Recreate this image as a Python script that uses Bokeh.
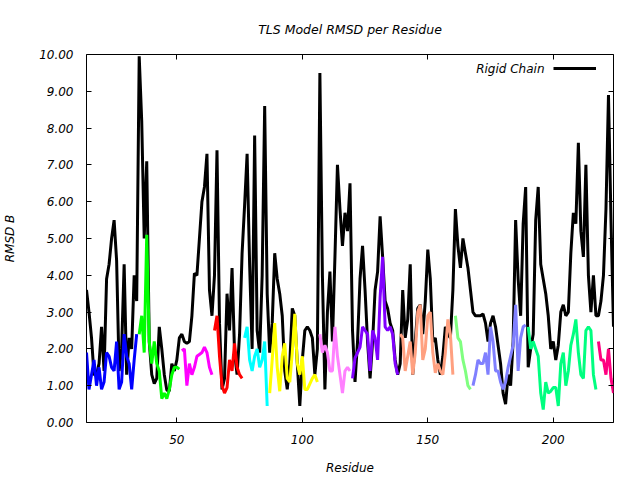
from bokeh.plotting import figure
from bokeh.models import (Range1d, FixedTicker, LinearAxis, NumeralTickFormatter, Legend,
                          LegendItem, Label, CustomJSTickFormatter)
from bokeh.embed import file_html
from bokeh.resources import INLINE

# ---- data ----
first_residue = 14
rigid_chain = [
    3.6, 3.0, 2.3, 1.3, 1.3, 1.6, 2.6, 1.4, 3.9, 4.3,   # 14-23
    5.0, 5.5, 4.4, 1.4, 2.0, 4.3, 1.3, 2.3, 2.0, 4.0,   # 24-33
    3.3, 9.95, 8.2, 5.0, 7.1, 2.2, 1.3, 1.06, 1.2, 2.6,  # 34-43
    2.0, 1.3, 0.88, 0.85, 1.6, 1.4, 1.7, 2.3, 2.4, 2.2,  # 44-53
    2.15, 2.2, 2.9, 4.05, 4.0, 5.0, 6.0, 6.4, 7.3, 3.6,  # 54-63
    2.9, 4.0, 7.4, 2.7, 0.9, 1.2, 3.5, 2.5, 4.2, 1.9,    # 64-73
    1.3, 2.4, 4.6, 5.9, 7.3, 4.3, 2.0, 7.8, 2.5, 1.9,    # 74-83
    4.0, 8.6, 3.5, 1.9, 2.7, 4.6, 3.9, 3.5, 2.9, 1.4,    # 84-93
    0.9, 1.6, 3.1, 2.9, 1.6, 0.45, 1.7, 2.5, 2.6, 2.5,   # 94-103
    2.3, 1.3, 2.0, 9.5, 4.0, 0.9, 3.0, 4.1, 2.2, 4.5,    # 104-113
    7.0, 5.8, 4.8, 5.7, 5.2, 6.5, 2.5, 1.1, 2.2, 3.9,    # 114-123
    4.8, 3.6, 2.2, 1.2, 2.2, 3.6, 4.1, 5.6, 4.5, 3.3,    # 124-133
    3.1, 2.7, 2.5, 1.7, 1.3, 1.6, 3.6, 2.3, 2.8, 4.3,    # 134-143
    1.3, 2.2, 3.1, 3.2, 2.4, 3.3, 4.7, 3.9, 2.2, 2.3,    # 144-153
    1.7, 1.3, 1.8, 2.6, 2.4, 2.3, 3.6, 5.8, 4.8, 4.2,    # 154-163
    5.0, 4.6, 4.2, 3.6, 3.0, 2.9, 2.9, 2.9, 2.95, 2.7,   # 164-173
    2.2, 2.7, 2.9, 2.6, 2.1, 1.6, 0.8, 0.5, 1.3, 1.0,    # 174-183
    2.2, 5.5, 3.9, 2.9, 5.4, 6.4, 1.5, 2.0, 2.4, 5.5,    # 184-193
    6.4, 4.3, 3.9, 3.5, 2.9, 2.0, 2.2, 1.7, 2.1, 3.0,    # 194-203
    3.2, 2.9, 3.0, 4.6, 5.7, 5.4, 7.6, 5.2, 4.5, 7.0,    # 204-213
    4.0, 3.0, 4.0, 2.9, 2.9, 3.3, 4.0, 5.8, 8.9, 5.5,    # 214-223
    2.6,                                                 # 224
]

group_starts = [14, 35, 52, 65, 77, 87, 107, 120, 139, 161, 168, 190, 218]
group_colors = ["#0000ff", "#00ff00", "#ff00ff", "#ff0000", "#00ffff", "#ffff00",
                "#ff80ff", "#8000ff", "#ffa080", "#80ff80", "#8080ff", "#00ff80", "#ff0080"]
group_values = [
    [1.9, 0.9, 1.3, 1.7, 1.0, 1.5, 0.9, 1.1, 1.9, 1.8, 1.5, 1.4, 2.2, 0.9, 1.1, 2.4, 1.8, 1.6, 0.9, 1.7, 2.4],
    [2.4, 2.9, 1.9, 5.1, 2.2, 1.6, 2.2, 1.6, 1.4, 0.65, 0.8, 0.65, 0.9, 1.3, 1.5, 1.5, 1.45],
    [1.95, 2.0, 1.0, 1.6, 1.3, 1.5, 1.8, 1.85, 1.9, 2.05, 1.9, 1.5, 1.3],
    [2.5, 2.9, 1.8, 1.0, 0.8, 0.95, 1.7, 1.4, 2.15, 1.5, 1.3, 1.2],
    [2.3, 2.6, 1.7, 1.4, 1.8, 2.0, 1.5, 1.7, 2.2, 0.45],
    [0.8, 1.7, 2.7, 1.5, 0.85, 1.8, 2.15, 1.2, 1.1, 1.9, 2.95, 1.6, 1.3, 1.8, 0.9, 0.9, 1.05, 1.2, 1.3, 1.1],
    [2.4, 1.9, 2.1, 1.9, 1.4, 1.4, 2.6, 1.8, 1.3, 0.8, 1.4, 1.5, 1.4],
    [1.2, 1.75, 1.9, 2.05, 2.6, 2.5, 2.4, 1.4, 2.5, 2.3, 1.7, 3.4, 4.5, 2.6, 2.5, 2.6, 2.4, 1.6, 1.3],
    [2.4, 2.3, 1.4, 1.8, 2.2, 1.3, 1.9, 3.0, 3.2, 1.7, 2.0, 2.9, 3.0, 1.9, 1.35, 1.6, 1.4, 1.3, 1.9, 2.8, 2.4, 1.3],
    [2.9, 2.3, 2.2, 1.7, 1.4, 1.0, 0.9],
    [1.0, 1.3, 1.7, 1.6, 1.6, 1.9, 1.3, 2.6, 2.2, 1.4, 1.4, 1.1, 0.9, 1.1, 1.5, 1.8, 2.1, 3.2, 1.4, 2.3, 2.6, 2.65],
    [2.6, 2.0, 2.2, 2.0, 1.8, 0.8, 0.35, 1.1, 0.8, 0.85, 0.95, 0.95, 0.45, 1.6, 1.9, 1.0, 1.4, 2.1, 2.4, 2.8,
     1.9, 1.3, 1.2, 2.5, 2.6, 2.5, 1.3, 0.9],
    [2.2, 1.7, 1.7, 1.3, 2.0, 1.2, 0.8],
]

x_ticks = [50, 100, 150, 200]
y_ticks = [0, 1, 2, 3, 4, 5, 6, 7, 8, 9, 10]
title_text = "TLS Model RMSD per Residue"
x_label = "Residue"
y_label = "RMSD B"
legend_label = "Rigid Chain"

FONT = "DejaVu Sans"

p = figure(width=640, height=480, output_backend="svg", toolbar_location=None,
           x_range=Range1d(14, 224), y_range=Range1d(0, 10),
           min_border_left=86, min_border_right=27, min_border_top=54, min_border_bottom=58,
           title=title_text)
p.title.align = "center"
p.title.text_font = FONT
p.title.text_font_style = "italic"
p.title.text_font_size = "12.5px"
p.title.text_color = "black"
p.title.standoff = 35

p.outline_line_color = "black"
p.outline_line_width = 1
p.xgrid.visible = False
p.ygrid.visible = False
p.background_fill_color = "white"
p.border_fill_color = "white"

res_all = list(range(first_residue, first_residue + len(rigid_chain)))
black = p.line(res_all, rigid_chain, line_color="black", line_width=3)

for start, col, vals in zip(group_starts, group_colors, group_values):
    xs = list(range(start, start + len(vals)))
    p.line(xs, vals, line_color=col, line_width=3)

def style_axis(ax, labels=True):
    ax.axis_line_color = None
    ax.major_tick_in = 5
    ax.major_tick_out = 0
    ax.major_tick_line_color = "black"
    ax.minor_tick_line_color = None
    if labels:
        ax.major_label_text_font = FONT
        ax.major_label_text_font_style = "italic"
        ax.major_label_text_font_size = "12px"
        ax.major_label_text_color = "black"
        ax.axis_label_text_font = FONT
        ax.axis_label_text_font_style = "italic"
        ax.axis_label_text_font_size = "12px"
        ax.axis_label_text_color = "black"
    else:
        ax.formatter = CustomJSTickFormatter(code="return ''")
        ax.major_label_standoff = 0

xa = p.xaxis[0]
xa.ticker = FixedTicker(ticks=x_ticks)
xa.axis_label = x_label
xa.major_label_standoff = 12
xa.axis_label_standoff = 14
style_axis(xa)

ya = p.yaxis[0]
ya.ticker = FixedTicker(ticks=y_ticks)
ya.formatter = NumeralTickFormatter(format="0.00")
ya.axis_label = y_label
ya.major_label_standoff = 13
ya.axis_label_standoff = 19
style_axis(ya)

top_ax = LinearAxis(ticker=FixedTicker(ticks=x_ticks))
style_axis(top_ax, labels=False)
p.add_layout(top_ax, "above")
right_ax = LinearAxis(ticker=FixedTicker(ticks=y_ticks))
style_axis(right_ax, labels=False)
p.add_layout(right_ax, "right")

# legend (gnuplot style: text, then line sample)
leg = Legend(items=[LegendItem(label="", renderers=[black])], location=(467, 349),
             glyph_width=43, glyph_height=10, label_width=0, label_standoff=0,
             padding=0, margin=0, spacing=0, border_line_color=None, background_fill_alpha=0,
             label_text_font_size="10px")
p.add_layout(leg, "center")
p.add_layout(Label(x=458, y=354, x_units="screen", y_units="screen", text=legend_label,
                   text_align="right", text_baseline="middle", text_font=FONT,
                   text_font_style="italic", text_font_size="12px", text_color="black"))

open("out.html", "w").write(file_html(p, INLINE))
